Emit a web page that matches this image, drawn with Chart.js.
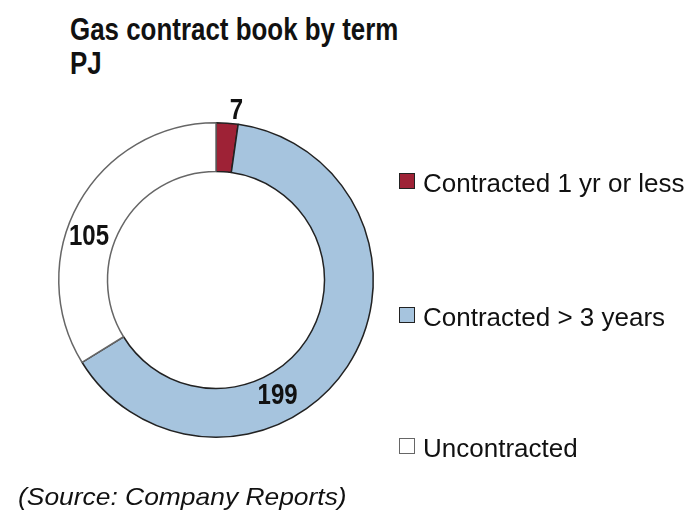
<!DOCTYPE html>
<html>
<head>
<meta charset="utf-8">
<script src="https://cdn.jsdelivr.net/npm/chart.js@4/dist/chart.umd.min.js"></script>
<style>
    body { margin: 0; background: #fff; }
    #wrap { position: relative; width: 699px; height: 525px; overflow: hidden; }
    .narrow { font-family: "Liberation Sans", Arial, sans-serif; }
    #title { position: absolute; left: 70px; top: 12px; font-size: 32px; font-weight: bold; line-height: 34px; color: #111;
             transform: scaleX(0.81); transform-origin: left top; white-space: nowrap; }
    #source { position: absolute; left: 18px; top: 483px; font-family: "Liberation Sans", Arial, sans-serif; font-style: italic;
              font-size: 24px; color: #111; transform: scaleX(1.1); transform-origin: left top; white-space: nowrap; }
    #legend { position: absolute; left: 399px; top: 0; }
    .item { position: absolute; white-space: nowrap; font-size: 26px; color: #111; }
    .box { position: absolute; left: 0; width: 14px; height: 14px; border: 1.5px solid #222; }
    .item span.txt { position: absolute; left: 24px; top: 0; }
    canvas { position: absolute; left: 0; top: 0; }
</style>
</head>
<body>
<div id="wrap">
    <div id="title" class="narrow">Gas contract book by term<br>PJ</div>
    <canvas id="gasChart" width="699" height="525"></canvas>
    <div id="legend" class="narrow"></div>
    <div id="source">(Source: Company Reports)</div>
</div>
<script>
// ----------- dữ liệu -----------
const categories = ['Contracted 1 yr or less', 'Contracted > 3 years', 'Uncontracted'];
const values = [7, 199, 105];
const sliceColors = ['#9e2236', '#a6c4de', '#ffffff'];
const sliceBorders = ['#222222', '#222222', '#666666'];

// vị trí nhãn: tỉ lệ theo bán kính (>1 là nằm ngoài vòng)
const labelRadius = [1.28, 0.985, 1.01];
const labelShift = [0.05, 0.5, -0.18]; // lệch góc (radian)

// ----------- legend HTML -----------
const legendTop = [168, 302, 433];
const legend = document.getElementById('legend');
categories.forEach((cat, i) => {
    legend.innerHTML += `
        <div class="item" style="top:${legendTop[i]}px">
            <div class="box" style="top:5px;background:${sliceColors[i]};border-color:${i === 2 ? '#666' : '#222'}"></div>
            <span class="txt">${cat}</span>
        </div>`;
});

// ----------- plugin vẽ số trên vòng -----------
const valueLabels = {
    id: 'valueLabels',
    afterDatasetsDraw(chart) {
        const ctx = chart.ctx;
        const meta = chart.getDatasetMeta(0);
        meta.data.forEach((arc, i) => {
            const p = arc.getProps(['x', 'y', 'startAngle', 'endAngle', 'innerRadius', 'outerRadius'], true);
            const mid = (p.startAngle + p.endAngle) / 2 + labelShift[i];
            const r = (p.innerRadius + p.outerRadius) / 2 * labelRadius[i];
            ctx.save();
            ctx.translate(p.x + Math.cos(mid) * r, p.y + Math.sin(mid) * r);
            ctx.scale(0.8, 1); // chữ hẹp giống bản gốc
            ctx.font = 'bold 30px "Liberation Sans", Arial, sans-serif';
            ctx.fillStyle = '#111';
            ctx.textAlign = 'center';
            ctx.textBaseline = 'middle';
            ctx.fillText(values[i], 0, 0);
            ctx.restore();
        });
    }
};

const ctx = document.getElementById('gasChart').getContext('2d');
new Chart(ctx, {
    type: 'doughnut',
    data: {
        labels: categories,
        datasets: [{
            data: values,
            backgroundColor: sliceColors,
            borderColor: sliceBorders,
            borderWidth: 1.5
        }]
    },
    options: {
        responsive: false,
        animation: false,
        cutout: '69%',
        layout: { padding: { left: 58, right: 325, top: 122, bottom: 87 } },
        plugins: {
            legend: { display: false },
            tooltip: { enabled: false }
        }
    },
    plugins: [valueLabels]
});
</script>
</body>
</html>
